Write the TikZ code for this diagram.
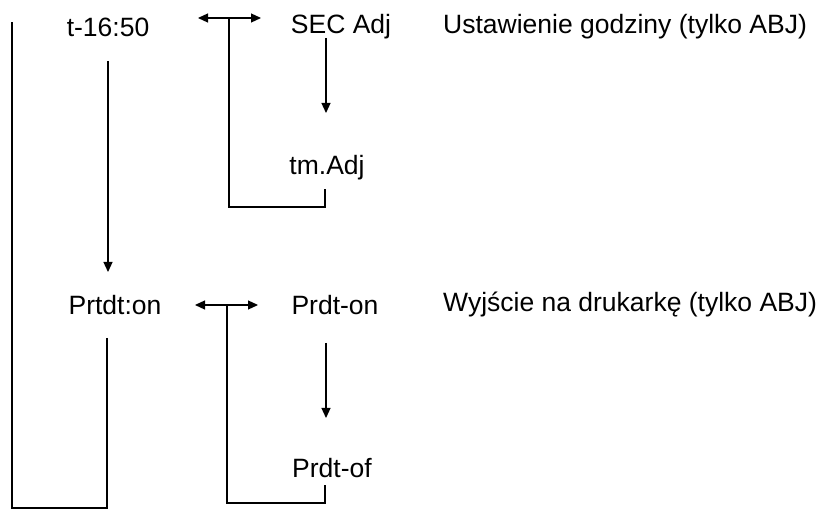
\documentclass[tikz,border=0pt]{standalone}
\usepackage{fontspec}
\setmainfont{Liberation Sans}
\usetikzlibrary{positioning, arrows.meta}

\tikzset{
  lbl/.style={font=\fontsize{26.5}{31}\selectfont, inner sep=0pt},
  conn/.style={line width=1.2pt},
  onearrow/.style={conn, -{Triangle[length=10pt,width=9pt]}},
  twoarrow/.style={conn, {Triangle[length=10pt,width=9pt]}-{Triangle[length=10pt,width=9pt]}}
}

\begin{document}
\begin{tikzpicture}[x=1pt, y=-1pt]
        \useasboundingbox (0,0) rectangle (822,510);

        % Time setting menu
        \node[lbl] (time) at (108,27) {t-16:50};
        \node[lbl] (secadj) at (341,27) {SEC Adj};
        \node[lbl] (tmadj) at (327,168) {tm.Adj};
        \node[lbl, anchor=west] (timenote) at (443,27) {Ustawienie godziny (tylko ABJ)};

        % Printer menu
        \node[lbl] (prtdt) at (115,305) {Prtdt:on};
        \node[lbl] (prdton) at (335,305) {Prdt-on};
        \node[lbl] (prdtof) at (332,468) {Prdt-of};
        \node[lbl, anchor=west] (prtnote) at (443,305) {Wyjście na drukarkę (tylko ABJ)};

        % Loose ends of the connectors
        \coordinate (timeL) at (198,18);
        \coordinate (timeR) at (261,18);
        \coordinate (timeJ) at (229,18);
        \coordinate (secTop) at (326,38);
        \coordinate (secEnd) at (326,113);
        \coordinate (tmRet) at (325,189);
        \coordinate (timeOut) at (108,61);
        \coordinate (prtIn) at (108,272);
        \coordinate (prtL) at (195,305);
        \coordinate (prtR) at (258,305);
        \coordinate (prtJ) at (227,305);
        \coordinate (onTop) at (326,343);
        \coordinate (onEnd) at (326,418);
        \coordinate (ofRet) at (325,485);
        \coordinate (prtOut) at (107,338);
        \coordinate (topL) at (12,22);

        % Time setting links
        \draw[twoarrow] (timeL) -- (timeR);
        \draw[conn] (timeJ) |- (229,207) -| (tmRet);
        \draw[onearrow] (secTop) -- (secEnd);
        \draw[onearrow] (timeOut) -- (prtIn);

        % Printer links
        \draw[twoarrow] (prtL) -- (prtR);
        \draw[conn] (prtJ) |- (227,503) -| (ofRet);
        \draw[onearrow] (onTop) -- (onEnd);

        % Back to the start
        \draw[conn] (prtOut) |- (12,508) -- (topL);
\end{tikzpicture}
\end{document}
